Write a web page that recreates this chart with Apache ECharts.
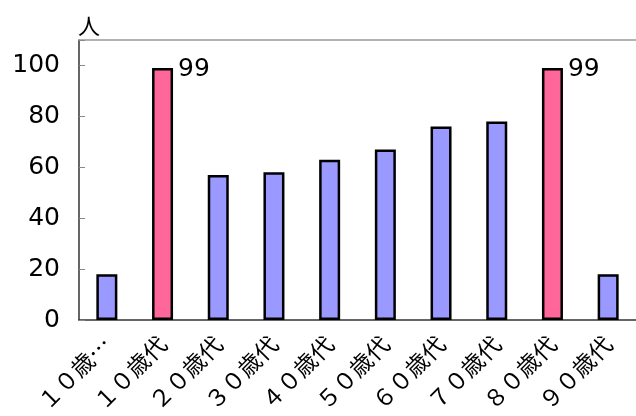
<!DOCTYPE html>
<html><head><meta charset="utf-8">
<script src="https://cdn.jsdelivr.net/npm/echarts@6/dist/echarts.min.js"></script>
<style>html,body{margin:0;padding:0;background:#fff}#c{width:636px;height:416px}</style>
</head><body><div id="c"></div>
<script>
const categories = ['１０歳…','１０歳代','２０歳代','３０歳代','４０歳代','５０歳代','６０歳代','７０歳代','８０歳代','９０歳代'];
const values = [18, 99, 57, 58, 63, 67, 76, 78, 99, 18];
const highlighted = [false, true, false, false, false, false, false, false, true, false];
const yTicks = [0, 20, 40, 60, 80, 100];
const unitLabel = '人';

const FONT = '"DejaVu Sans","Noto Sans CJK JP",sans-serif';
const chart = echarts.init(document.getElementById('c'));
chart.setOption({
  animation: false,
  backgroundColor: '#fff',
  title: { text: unitLabel, left: 73, top: 10, textStyle: { fontSize: 22, fontWeight: 'normal', color: '#000', fontFamily: '"Noto Sans CJK JP",sans-serif' } },
  grid: { left: 79, right: 0, top: 40, bottom: 96, containLabel: false },
  xAxis: [{
    type: 'category', data: categories,
    axisLine: { lineStyle: { color: '#333', width: 1.5 } },
    axisTick: { inside: true, length: 7, lineStyle: { color: '#888' } },
    axisLabel: { rotate: 45, margin: 20, fontSize: 23, color: '#000', fontFamily: '"Noto Sans CJK JP",sans-serif', interval: 0 }
  }, {
    type: 'category', data: categories, position: 'top',
    axisLine: { lineStyle: { color: '#999', width: 1.5 } },
    axisTick: { show: false }, axisLabel: { show: false }
  }],
  yAxis: {
    type: 'value', min: 0, max: 110, interval: 20,
    axisLine: { show: true, lineStyle: { color: '#333', width: 1.5 } },
    axisTick: { show: true, inside: true, length: 6, lineStyle: { color: '#888' } },
    splitLine: { show: false },
    axisLabel: { fontSize: 25, color: '#000', margin: 19, fontFamily: FONT,
      formatter: v => yTicks.includes(v) ? String(v) : '' }
  },
  series: [{
    type: 'bar', barWidth: 21,
    data: values.map((v, i) => ({
      value: v,
      itemStyle: { color: highlighted[i] ? '#FF6699' : '#9999FF', borderColor: '#000', borderWidth: 2.5 },
      label: highlighted[i] ? { show: true, position: ['100%', 0], align: 'left', verticalAlign: 'middle', offset: [5, 1],
        fontSize: 25, color: '#000', fontFamily: FONT, formatter: '{c}' } : { show: false }
    }))
  }]
});
</script></body></html>
